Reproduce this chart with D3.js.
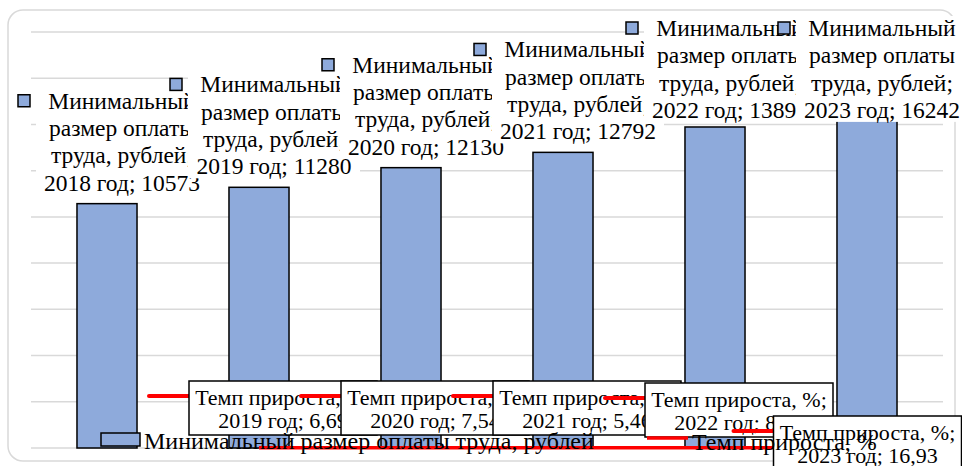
<!DOCTYPE html>
<html>
<head>
<meta charset="utf-8">
<script src="https://cdn.jsdelivr.net/npm/d3@7"></script>
<style>
  body { margin: 0; background: #fff; }
</style>
</head>
<body>
<div id="chart"></div>
<script>
// data
var years = ["2018", "2019", "2020", "2021", "2022", "2023"];
var mrot = [10573, 11280, 12130, 12792, 13890, 16242];
var growth = [null, 6.69, 7.54, 5.46, 8.58, 16.93];
var yTicks = [0, 2000, 4000, 6000, 8000, 10000, 12000, 14000, 16000, 18000];
var barSeries = "Минимальный размер оплаты труда, рублей";
var barLabelLines = ["Минимальный", "размер оплаты", "труда, рублей;"];
var growthSeries = "Темп прироста, %";

var width = 962, height = 466;
var barColor = "#8eaadb";
var serif = "Liberation Serif";

var svg = d3.select("#chart").append("svg")
    .attr("width", width)
    .attr("height", height);

// outer frame
svg.append("rect")
    .attr("x", 8).attr("y", 10)
    .attr("width", 947).attr("height", 451)
    .attr("rx", 15)
    .attr("fill", "#fff")
    .attr("stroke", "#d9d9d9")
    .attr("stroke-width", 1.5);

var x = d3.scaleBand()
    .domain(years)
    .range([31, 943])
    .paddingInner(0.605)
    .paddingOuter(0.3025);

var y = d3.scaleLinear()
    .domain([0, 18000])
    .range([448, 32]);

// gridlines
svg.append("g")
  .selectAll("line")
  .data(yTicks)
  .enter()
  .append("line")
    .attr("x1", 31).attr("x2", 943)
    .attr("y1", function(d) { return y(d); })
    .attr("y2", function(d) { return y(d); })
    .attr("stroke", "#d9d9d9")
    .attr("stroke-width", 1.5);

// bars
svg.append("g")
  .selectAll("rect")
  .data(years)
  .enter()
  .append("rect")
    .attr("x", function(d) { return x(d); })
    .attr("y", function(d, i) { return y(mrot[i]); })
    .attr("width", x.bandwidth())
    .attr("height", function(d, i) { return y(0) - y(mrot[i]); })
    .attr("fill", barColor)
    .attr("stroke", "#000")
    .attr("stroke-width", 1.5);

// growth line (same axis as the bars, so it sits on the bottom)
var growthPts = years.map(function(d, i) { return {year: d, v: growth[i]}; })
    .filter(function(d) { return d.v != null; });
var line = d3.line()
    .x(function(d) { return x(d.year) + x.bandwidth() / 2; })
    .y(function(d) { return y(d.v); });
svg.append("path")
    .datum(growthPts)
    .attr("d", line)
    .attr("fill", "none")
    .attr("stroke", "#ff0000")
    .attr("stroke-width", 3.5);

// bar data labels (white boxes, later ones cover earlier ones)
var lineGap = 27.3;
var topLabels = svg.append("g");
years.forEach(function(yr, i) {
  var cx = x(yr) + x.bandwidth() / 2;
  var tc = cx + 15;
  var last = y(mrot[i]) - 21;
  var first = last - 3 * lineGap;
  if (first < 28) { first = 28; last = first + 3 * lineGap; }
  var g = topLabels.append("g");
  g.append("rect")
      .attr("x", tc - 86).attr("y", first - 12)
      .attr("width", 172).attr("height", last - first + 24)
      .attr("fill", "#fff");
  g.append("rect")
      .attr("x", tc - 86 - 18).attr("y", first - 6)
      .attr("width", 12).attr("height", 12)
      .attr("fill", barColor)
      .attr("stroke", "#000")
      .attr("stroke-width", 1.5);
  var lines = barLabelLines.concat([yr + " год; " + mrot[i]]);
  g.selectAll("text")
    .data(lines)
    .enter()
    .append("text")
      .attr("x", tc)
      .attr("y", function(d, k) { return first + k * lineGap + 8; })
      .attr("text-anchor", "middle")
      .attr("font-family", serif)
      .attr("font-size", 23.5)
      .text(function(d) { return d; });
});

// growth data labels
var fmt = function(v) { return d3.format(".2f")(v).replace(".", ","); };
var growthLabels = svg.append("g");
years.forEach(function(yr, i) {
  if (growth[i] == null) return;
  var cx = x(yr) + x.bandwidth() / 2;
  var isLast = i == years.length - 1;
  var left = isLast ? cx - 93.5 : cx - 70;
  var top = isLast ? 416 : (i == 4 ? 383 : 381);
  var g = growthLabels.append("g");
  g.append("line")
      .attr("x1", left - 40).attr("x2", left)
      .attr("y1", top + 15).attr("y2", top + 15)
      .attr("stroke", "#ff0000")
      .attr("stroke-width", 4)
      .attr("stroke-linecap", "round");
  g.append("rect")
      .attr("x", left).attr("y", top)
      .attr("width", 188).attr("height", 54)
      .attr("fill", "#fff")
      .attr("stroke", "#000")
      .attr("stroke-width", 1.5);
  g.selectAll("text")
    .data([growthSeries + ";", yr + " год; " + fmt(growth[i])])
    .enter()
    .append("text")
      .attr("x", left + 94)
      .attr("y", function(d, k) { return top + 24 + k * 23; })
      .attr("text-anchor", "middle")
      .attr("font-family", serif)
      .attr("font-size", 22)
      .text(function(d) { return d; });
});

// legend
var legend = svg.append("g");
legend.append("rect")
    .attr("x", 101).attr("y", 433)
    .attr("width", 39).attr("height", 13)
    .attr("fill", barColor)
    .attr("stroke", "#000")
    .attr("stroke-width", 1.5);
legend.append("text")
    .attr("x", 144).attr("y", 449)
    .attr("font-family", serif)
    .attr("font-size", 24)
    .text(barSeries);
legend.append("line")
    .attr("x1", 647).attr("x2", 688)
    .attr("y1", 438).attr("y2", 438)
    .attr("stroke", "#ff0000")
    .attr("stroke-width", 3.5);
legend.append("text")
    .attr("x", 692).attr("y", 450)
    .attr("font-family", serif)
    .attr("font-size", 24)
    .text(growthSeries);
</script>
</body>
</html>
